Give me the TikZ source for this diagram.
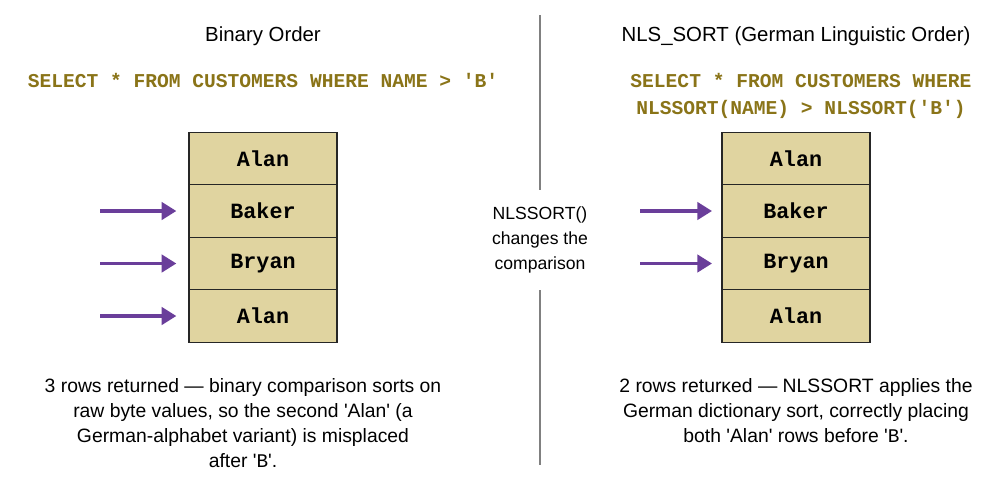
\documentclass[tikz,border=0pt]{standalone}
\usepackage{fontspec}
\setmainfont{Liberation Sans}
\setmonofont{Liberation Mono}
\usetikzlibrary{arrows.meta}
\definecolor{olive}{HTML}{8A7418}
\definecolor{cellfill}{HTML}{E0D4A0}
\definecolor{arr}{HTML}{6A3E9A}
\newcommand{\q}{\textquotesingle}
\begin{document}
\begin{tikzpicture}[x=0.75pt,y=-0.75pt,
  cell/.style={draw=black!85,line width=1pt,fill=cellfill,minimum width=111pt,minimum height=39.5pt,inner sep=0pt,font=\ttfamily\bfseries\fontsize{16.3}{18}\selectfont},
  title/.style={font=\fontsize{15.3}{18}\selectfont},
  sql/.style={text=olive,font=\ttfamily\bfseries\fontsize{14.7}{20.5}\selectfont,align=center},
  note/.style={font=\fontsize{14.5}{18.8}\selectfont,align=center},
  arrow/.style={draw=arr,line width=2.5pt,-{Triangle[length=11pt,width=13pt]}}]
\useasboundingbox (0,0) rectangle (1000,479);
\fill[white] (0,0) rectangle (1000,479);
\coordinate (d1) at (540,15); \coordinate (d2) at (540,190);
\coordinate (d3) at (540,290); \coordinate (d4) at (540,465);
\draw[black!50,line width=0.8pt] (d1)--(d2) (d3)--(d4);
\node[title] (t1) at (263,36) {Binary Order};
\node[title] (t2) at (796,36) {NLS\_SORT (German Linguistic Order)};
\node[sql] (s1) at (263,80) {SELECT * FROM CUSTOMERS WHERE NAME > \q B\q};
\node[sql] (s2) at (801,96) {SELECT * FROM CUSTOMERS WHERE\\NLSSORT(NAME) > NLSSORT(\q B\q)};
\foreach \p/\x in {L/263,R/796}{
  \node[cell] (\p1) at (\x,158.5) {Alan};
  \node[cell] (\p2) at (\x,211) {Baker};
  \node[cell] (\p3) at (\x,263.5) {Bryan};
  \node[cell] (\p4) at (\x,316) {Alan};
}
\foreach \i in {2,3,4}{\coordinate (la\i) at (100,0 |- L\i); \draw[arrow] (la\i) -- ([xshift=-9pt]L\i.west);}
\foreach \i in {2,3}{\coordinate (ra\i) at (640,0 |- R\i); \draw[arrow] (ra\i) -- ([xshift=-7pt]R\i.west);}
\node[note,font=\fontsize{13.2}{18.8}\selectfont] (m) at (540,240) {NLSSORT()\\changes the\\comparison};
\node[note] (n1) at (243,423) {3 rows returned — binary comparison sorts on\\raw byte values, so the second \q Alan\q{} (a\\German-alphabet variant) is misplaced\\after \q\texttt{B}\q.};
\node[note] (n2) at (796,411) {2 rows returκed — NLSSORT applies the\\German dictionary sort, correctly placing\\both \q Alan\q{} rows before \q\texttt{B}\q.};
\end{tikzpicture}
\end{document}
